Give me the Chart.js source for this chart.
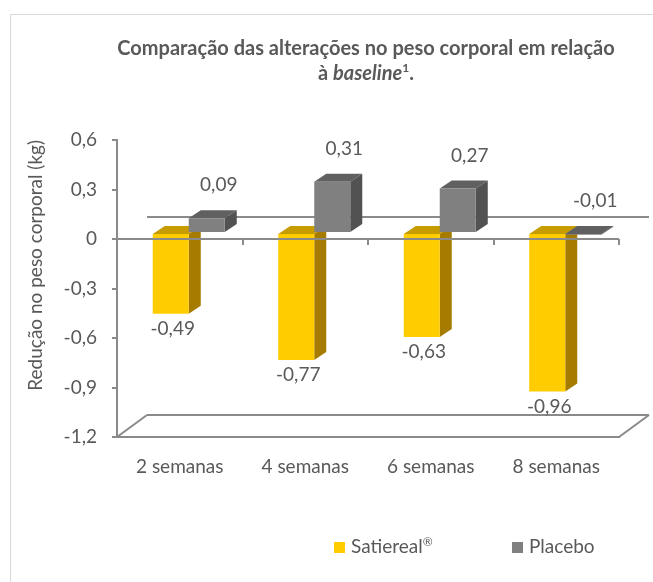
<!DOCTYPE html>
<html lang="pt">
<head>
  <meta charset="UTF-8">
  <title>Comparação das alterações no peso corporal</title>
  <script src="https://cdn.jsdelivr.net/npm/chart.js@4"></script>
  <style>
    body {
      margin: 0;
      padding: 0;
      background: #fff;
      font-family: 'Lato', 'Open Sans', sans-serif;
      color: #595959;
    }
    .frame {
      position: absolute;
      left: 10px;
      top: 14px;
      width: 700px;
      height: 620px;
      border-left: 1px solid #d9d9d9;
      border-top: 1px solid #d9d9d9;
    }
    .wrap {
      position: absolute;
      left: 0;
      top: 0;
      width: 653px;
      height: 582px;
    }
    .title {
      position: absolute;
      left: 66px;
      width: 600px;
      top: 35px;
      text-align: center;
      font-weight: bold;
      font-size: 20px;
      line-height: 25px;
    }
    .title sup { font-size: 12px; line-height: 0; }
    .legend {
      position: absolute;
      top: 536px;
      font-size: 19px;
      line-height: 20px;
    }
    .legend span.box {
      display: inline-block;
      width: 11px;
      height: 11px;
      margin-right: 6px;
    }
    .legend sup { font-size: 12px; line-height: 0; }
  </style>
</head>
<body>
  <div class="frame"></div>
  <div class="wrap"><canvas id="chart" width="653" height="582"></canvas></div>
  <div class="title">Comparação das alterações no peso corporal em relação<br>à <i>baseline</i><sup>1</sup>.</div>
  <div class="legend" style="left:334px"><span class="box" style="background:#ffcc00"></span>Satiereal<sup>®</sup></div>
  <div class="legend" style="left:512px"><span class="box" style="background:#808080"></span>Placebo</div>

  <script>
  // dados
  const categories = ['2 semanas', '4 semanas', '6 semanas', '8 semanas'];
  const satiereal = [-0.49, -0.77, -0.63, -0.96];
  const placebo = [0.09, 0.31, 0.27, -0.01];
  const yTicks = [0.6, 0.3, 0, -0.3, -0.6, -0.9, -1.2];

  const axisColor = '#8a8a8a';
  const textColor = '#595959';
  const faces = [
    { side: '#a67c00', top: '#c79c00' },
    { side: '#525252', top: '#606060' }
  ];
  const shift = { x: 9, y: -6 };   // posição da face frontal das barras
  const depth = { x: 12, y: 8 };   // profundidade das barras
  const wall = { x: 30, y: 22 };   // profundidade do piso

  function fmt(v, d) {
    return v === 0 ? '0' : v.toFixed(d).replace('.', ',');
  }

  function line(ctx, x0, y0, x1, y1) {
    ctx.beginPath();
    ctx.moveTo(x0, y0);
    ctx.lineTo(x1, y1);
    ctx.stroke();
  }

  function poly(ctx, pts, color) {
    ctx.fillStyle = color;
    ctx.beginPath();
    ctx.moveTo(pts[0][0], pts[0][1]);
    for (let i = 1; i < pts.length; i++) ctx.lineTo(pts[i][0], pts[i][1]);
    ctx.closePath();
    ctx.fill();
  }

  const bars3d = {
    id: 'bars3d',
    beforeDatasetsDraw(chart) {
      const ctx = chart.ctx;
      const a = chart.chartArea;
      const zeroY = chart.scales.y.getPixelForValue(0);
      ctx.save();
      ctx.strokeStyle = axisColor;
      ctx.lineWidth = 2;
      // parede de fundo / piso
      line(ctx, a.left + wall.x, zeroY - wall.y, a.right + wall.x, zeroY - wall.y);
      line(ctx, a.left + wall.x, a.bottom - wall.y, a.right + wall.x, a.bottom - wall.y);
      line(ctx, a.left, a.bottom, a.left + wall.x, a.bottom - wall.y);
      line(ctx, a.right, a.bottom, a.right + wall.x, a.bottom - wall.y);
      ctx.restore();

      ctx.save();
      ctx.translate(shift.x, shift.y);
      chart.data.datasets.forEach((ds, i) => {
        chart.getDatasetMeta(i).data.forEach(bar => {
          const p = bar.getProps(['x', 'y', 'base', 'width'], true);
          const x0 = p.x - p.width / 2, x1 = p.x + p.width / 2;
          const top = Math.min(p.y, p.base), bot = Math.max(p.y, p.base);
          poly(ctx, [[x0, top], [x1, top], [x1 + depth.x, top - depth.y], [x0 + depth.x, top - depth.y]], faces[i].top);
          poly(ctx, [[x1, top], [x1 + depth.x, top - depth.y], [x1 + depth.x, bot - depth.y], [x1, bot]], faces[i].side);
        });
      });
    },
    afterDatasetsDraw(chart) {
      const ctx = chart.ctx;
      ctx.restore();
      const a = chart.chartArea;
      const zeroY = chart.scales.y.getPixelForValue(0);
      ctx.save();
      ctx.strokeStyle = axisColor;
      ctx.lineWidth = 2;
      line(ctx, a.left - 5, zeroY, a.right, zeroY);
      const step = (a.right - a.left) / categories.length;
      for (let k = 1; k <= categories.length; k++) {
        const x = Math.round(a.left + k * step);
        line(ctx, x, zeroY, x, zeroY + 6);
      }
      // rótulos de dados
      ctx.fillStyle = textColor;
      ctx.font = '19px Lato';
      ctx.textAlign = 'center';
      ctx.textBaseline = 'middle';
      chart.data.datasets.forEach((ds, i) => {
        chart.getDatasetMeta(i).data.forEach((bar, j) => {
          const p = bar.getProps(['x', 'y', 'base'], true);
          const v = ds.data[j];
          if (i === 0) {
            ctx.fillText(fmt(v, 2), p.x + shift.x + 2, Math.max(p.y, p.base) + shift.y + 15);
          } else {
            ctx.fillText(fmt(v, 2), p.x + shift.x + 12, Math.min(p.y, p.base) + shift.y - 33);
          }
        });
      });
      ctx.restore();
    }
  };

  const ctx = document.getElementById('chart').getContext('2d');
  new Chart(ctx, {
    type: 'bar',
    data: {
      labels: categories,
      datasets: [{
        label: 'Satiereal®',
        data: satiereal,
        backgroundColor: '#ffcc00'
      }, {
        label: 'Placebo',
        data: placebo,
        backgroundColor: '#808080'
      }]
    },
    options: {
      responsive: false,
      animation: false,
      events: [],
      layout: {
        padding: { left: 0, right: 34, top: 140, bottom: 85 }
      },
      datasets: {
        bar: { categoryPercentage: 0.574, barPercentage: 1.0 }
      },
      plugins: {
        legend: { display: false },
        tooltip: { enabled: false }
      },
      scales: {
        x: {
          grid: { display: false },
          border: { display: true, color: axisColor, width: 2 },
          ticks: { color: textColor, font: { family: 'Lato', size: 19 }, padding: 10 },
          afterFit(scale) { scale.height = 60; }
        },
        y: {
          min: -1.2,
          max: 0.6,
          afterBuildTicks(scale) { scale.ticks = yTicks.map(v => ({ value: v })); },
          grid: { display: true, drawOnChartArea: false, drawTicks: true, tickLength: 5, color: axisColor, lineWidth: 2 },
          border: { display: true, color: axisColor, width: 2 },
          ticks: {
            color: textColor,
            font: { family: 'Lato', size: 19 },
            padding: 15,
            callback: v => fmt(v, 1)
          },
          title: {
            display: true,
            text: 'Redução no peso corporal (kg)',
            color: textColor,
            font: { family: 'Lato', size: 19 },
            align: 'end',
            padding: { top: 24, bottom: 0 }
          },
          afterFit(scale) { scale.width = 117; }
        }
      }
    },
    plugins: [bars3d]
  });
</script>
</body>
</html>
